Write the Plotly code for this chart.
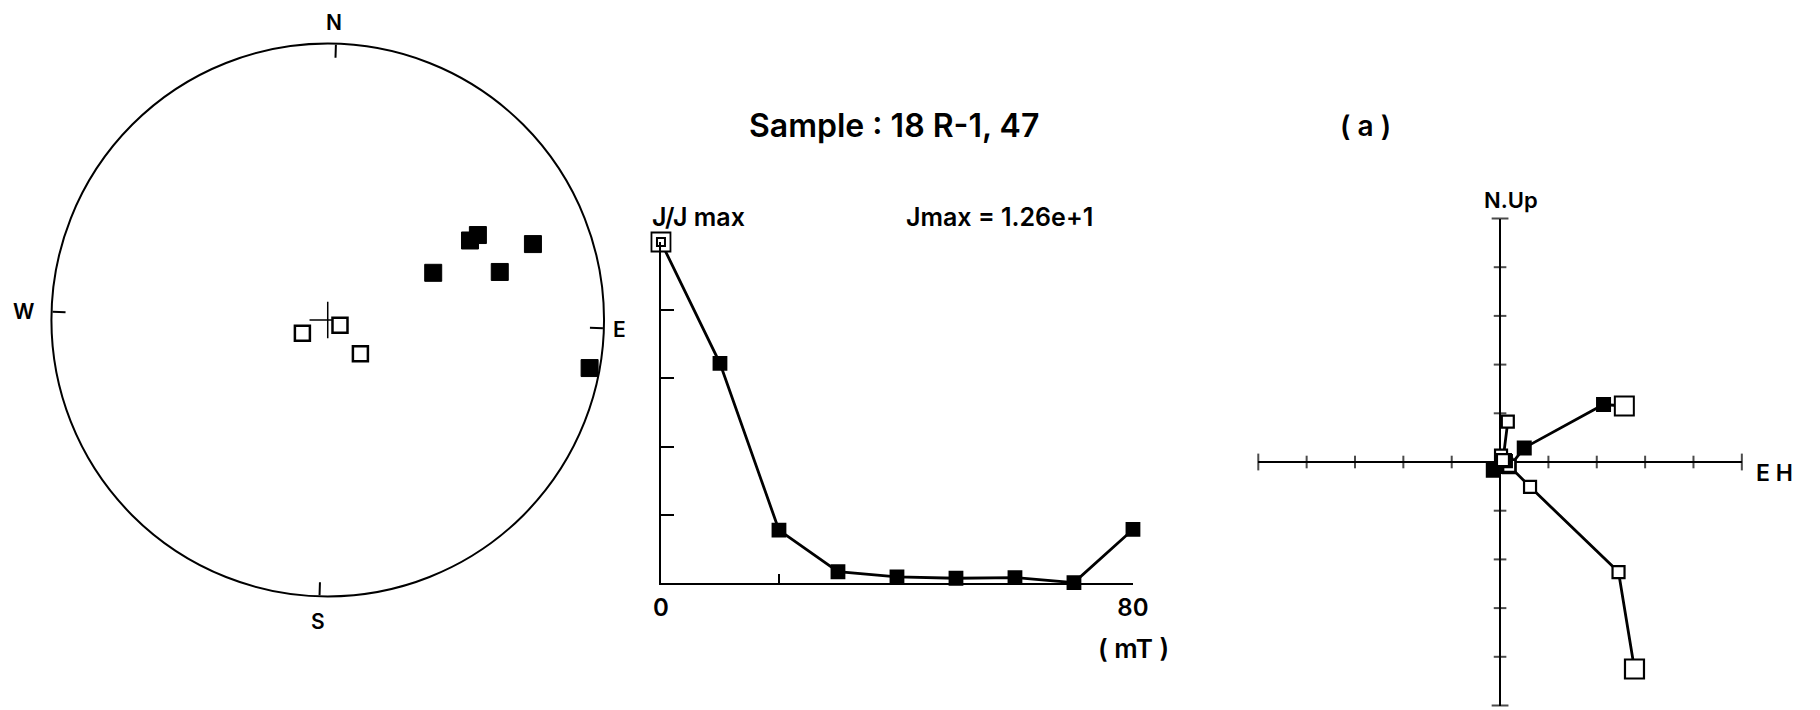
import numpy as np
import plotly.graph_objects as go

W, H = 1820, 710

# AF demagnetisation steps (mT) and normalised intensity J/Jmax
steps = [0, 10, 20, 30, 40, 50, 60, 70, 80]
j_rel = [1.0, 0.644, 0.155, 0.033, 0.018, 0.014, 0.016, 0.001, 0.157]

# stereonet directions (deg): lower hemisphere = filled, upper = open
dec_lower = [59.1, 58.8, 64.2, 72.7, 68.0, 98.7]
inc_lower = [40.7, 37.6, 55.6, 35.6, 21.9, 4.1]
dec_upper = [240.6, 111.1, 134.2]
inc_upper = [-81.6, -86.1, -76.2]

# Zijderveld projections (arbitrary units, one tick = 1)
east_h = [2.57, 2.14, 0.50, 0.19, 0.14, 0.12, 0.16, 0.08, -0.14]
north_h = [1.15, 1.18, 0.29, -0.10, -0.08, -0.06, -0.09, -0.06, -0.17]
east_v = [2.78, 2.45, 0.62, 0.19, 0.12, 0.10, 0.02, 0.06, 0.16]
up_v = [-4.25, -2.26, -0.51, -0.08, 0.02, 0.04, 0.13, 0.04, 0.83]
zij_ticks = [-5, -4, -3, -2, -1, 1, 2, 3, 4, 5]

FONT = "Inter"
WEIGHT = 600


def equal_area(inc):
    return list(np.sqrt(2) * np.sin(np.radians(45 - np.abs(np.array(inc)) / 2)))


def px(x, y):
    return x / W, 1 - y / H


fig = go.Figure()

# --- stereonet ---
fig.add_trace(go.Scatterpolar(
    r=[0], theta=[0], mode='markers', subplot='polar',
    marker=dict(symbol='cross-thin', size=26, line=dict(color='black', width=1.5)),
    showlegend=False, hoverinfo='skip'
))
fig.add_trace(go.Scatterpolar(
    r=equal_area(inc_upper), theta=dec_upper, mode='markers', subplot='polar',
    marker=dict(symbol='square', size=15, color='white', opacity=1,
                line=dict(color='black', width=2.5)),
    showlegend=False
))
fig.add_trace(go.Scatterpolar(
    r=equal_area(inc_lower), theta=dec_lower, mode='markers', subplot='polar',
    marker=dict(symbol='square', size=17, color='black', opacity=1,
                line=dict(color='black', width=1)),
    showlegend=False
))

# --- intensity decay ---
fig.add_trace(go.Scatter(
    x=steps, y=j_rel, mode='lines+markers', xaxis='x2', yaxis='y2',
    line=dict(color='black', width=2.8),
    marker=dict(symbol='square', size=[19] + [13] * (len(steps) - 1), opacity=1,
                color=['white'] + ['black'] * (len(steps) - 1),
                line=dict(color='black', width=1.8)),
    cliponaxis=False, showlegend=False
))
fig.add_trace(go.Scatter(
    x=steps[:1], y=j_rel[:1], mode='markers', xaxis='x2', yaxis='y2',
    marker=dict(symbol='square', size=8, color='white', opacity=1,
                line=dict(color='black', width=2)),
    cliponaxis=False, showlegend=False
))

# --- Zijderveld ---
fig.add_trace(go.Scatter(
    x=zij_ticks, y=[0] * len(zij_ticks), mode='markers', xaxis='x3', yaxis='y3',
    marker=dict(symbol='line-ns', size=[12] + [9] * 8 + [12], line=dict(color='black', width=2)),
    cliponaxis=False, showlegend=False, hoverinfo='skip'
))
fig.add_trace(go.Scatter(
    x=[0] * len(zij_ticks), y=zij_ticks, mode='markers', xaxis='x3', yaxis='y3',
    marker=dict(symbol='line-ew', size=[12] + [9] * 8 + [12], line=dict(color='black', width=2)),
    cliponaxis=False, showlegend=False, hoverinfo='skip'
))
n = len(east_h)
fig.add_trace(go.Scatter(
    x=east_h, y=north_h, mode='lines+markers', xaxis='x3', yaxis='y3',
    line=dict(color='black', width=2.8),
    marker=dict(symbol='square', size=[19] + [13] * (n - 1), opacity=1,
                color=['white'] + ['black'] * (n - 1),
                line=dict(color='black', width=2)),
    cliponaxis=False, showlegend=False
))
fig.add_trace(go.Scatter(
    x=east_v, y=up_v, mode='lines+markers', xaxis='x3', yaxis='y3',
    line=dict(color='black', width=2.8),
    marker=dict(symbol='square', size=[19] + [12] * (n - 1), color='white', opacity=1,
                line=dict(color='black', width=2.2)),
    cliponaxis=False, showlegend=False
))

# text labels
labels = [
    ("N", 330, 23, 21), ("S", 314, 621, 21), ("W", 16, 311, 21), ("E", 620, 329, 21),
    ("Sample : 18 R-1, 47", 898, 126, 32), ("( a )", 1376, 126, 28),
    ("J/J max", 700, 217, 25), ("Jmax = 1.26e+1", 1005, 217, 25),
    ("( mT )", 1141, 648, 26), ("N.Up", 1523, 200, 22), ("E H", 1790, 473, 23),
]
annotations = []
for text, x, y, size in labels:
    ax, ay = px(x, y)
    annotations.append(dict(text=text, x=ax, y=ay, xref='paper', yref='paper',
                            xanchor='center', yanchor='middle', showarrow=False,
                            font=dict(family=FONT, size=size, color='black', weight=WEIGHT)))

axis_common = dict(showgrid=False, zeroline=False, linecolor='black', tickcolor='black')

fig.update_layout(
    width=W, height=H, autosize=False,
    margin=dict(l=0, r=0, t=0, b=0),
    paper_bgcolor='white', plot_bgcolor='white',
    font=dict(family=FONT, color='black', weight=WEIGHT),
    polar=dict(
        domain=dict(x=[44 / W, 604 / W], y=[1 - 600 / H, 1 - 40 / H]),
        bgcolor='white',
        radialaxis=dict(visible=False, range=[0, 1]),
        angularaxis=dict(direction='clockwise', rotation=88.3, showline=True,
                         linecolor='black', linewidth=2, showgrid=False,
                         ticks='inside', ticklen=13, tickwidth=1.5, tickcolor='black',
                         tickmode='array', tickvals=[0, 90, 180, 270],
                         showticklabels=False),
    ),
    xaxis2=dict(domain=[661.7 / W, 1140 / W], range=[0, 80], anchor='y2',
                showline=True, linewidth=2, ticks='inside', ticklen=9, tickwidth=2,
                tickvals=[0, 20, 40, 60, 80], ticktext=['0', '', '', '', '80'],
                tickfont=dict(size=24, weight=WEIGHT), ticklabelstandoff=2, **axis_common),
    yaxis2=dict(domain=[1 - 583 / H, 1 - 242 / H], range=[0, 1], anchor='x2',
                showline=True, linewidth=2, ticks='inside', ticklen=13, tickwidth=2,
                tickvals=[0.2, 0.4, 0.6, 0.8], showticklabels=False, **axis_common),
    xaxis3=dict(domain=[1267 / W, 1757 / W], range=[-5, 5], anchor='y3',
                showgrid=False, showline=False, showticklabels=False, ticks='',
                zeroline=True, zerolinecolor='black', zerolinewidth=2),
    yaxis3=dict(domain=[1 - 705.5 / H, 1 - 218.5 / H], range=[-5, 5], anchor='x3',
                showgrid=False, showline=False, showticklabels=False, ticks='',
                zeroline=True, zerolinecolor='black', zerolinewidth=2),
    annotations=annotations,
)

fig.write_html("out.html", config={'displayModeBar': False},
               post_script="document.body.style.margin='0';")
